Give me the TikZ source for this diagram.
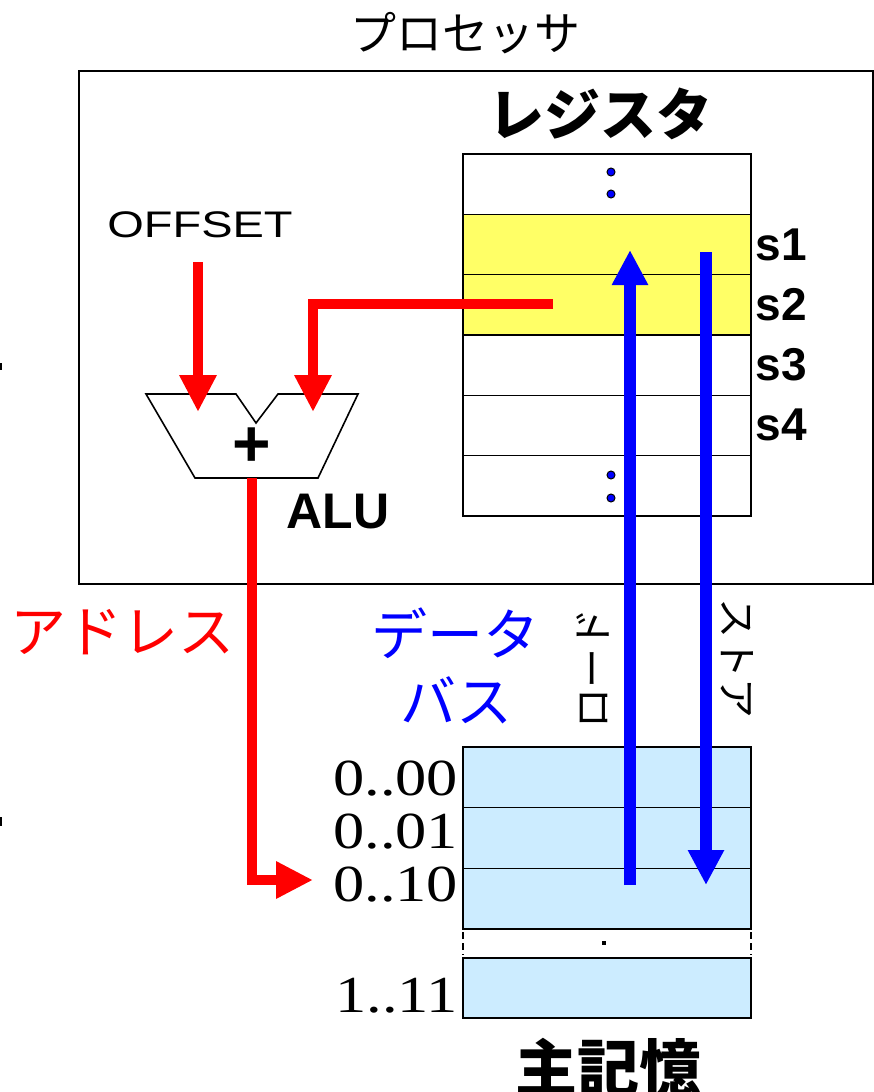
\documentclass[tikz,border=0pt]{standalone}
\usepackage{fontspec}
\setmainfont{Liberation Serif}
\setsansfont{Liberation Sans}
\newfontfamily\jp{Noto Sans CJK JP}
\usetikzlibrary{arrows.meta}
\definecolor{regyellow}{HTML}{FFFF66}
\definecolor{memblue}{HTML}{CCECFF}
\newcommand{\fs}[1]{\fontsize{#1}{#1}\selectfont}
\begin{document}
\begin{tikzpicture}[x=1pt,y=-1pt,
  box/.style={draw=black,line width=1.6pt},
  cell/.style={draw=black,line width=1.6pt,anchor=north west,minimum width=288pt,inner sep=0pt,outer sep=0pt},
  txt/.style={inner sep=0pt,outer sep=0pt},
  redarrow/.style={draw=red,line width=10pt,-{Triangle[width=35pt,length=37pt]}},
  bluearrow/.style={draw=blue,line width=12pt,-{Triangle[width=34pt,length=35pt]}},
  dotmark/.style={circle,fill=blue,draw=black,line width=1pt,inner sep=0pt,minimum size=8pt},
  addr/.style={txt,anchor=base east,font=\rmfamily\fs{52}},
  slabel/.style={txt,font=\sffamily\bfseries\fs{46}},
]
\useasboundingbox (0,0) rectangle (874,1092);

% tiny marks at left edge
\draw[line width=1.5pt] (0.75,363) -- (0.75,370);
\draw[line width=1.5pt] (0.75,817) -- (0.75,826);

% title and processor box
\node[txt,font=\jp\fs{46}] (title) at (465,33) {プロセッサ};
\node[box,anchor=north west,minimum width=794pt,minimum height=513pt,inner sep=0pt] (proc) at (78,70) {};

% registers
\node[txt,font=\jp\bfseries\fs{56}] (regtitle) at (600,114) {レジスタ};
\node[cell,minimum height=60.33pt] (r0) at (463,154) {};
\node[cell,minimum height=60.33pt,fill=regyellow] (r1) at (463,214.33) {};
\node[cell,minimum height=60.33pt,fill=regyellow] (r2) at (463,274.67) {};
\node[cell,minimum height=60.33pt] (r3) at (463,335) {};
\node[cell,minimum height=60.33pt] (r4) at (463,395.33) {};
\node[cell,minimum height=60.33pt] (r5) at (463,455.67) {};
\node[dotmark] (d1) at (611,172) {};
\node[dotmark] (d2) at (611,194) {};
\node[dotmark] (d3) at (611,475) {};
\node[dotmark] (d4) at (611,498) {};
\node[slabel] (s1) at (781,245) {s1};
\node[slabel] (s2) at (781,305) {s2};
\node[slabel] (s3) at (781,365) {s3};
\node[slabel] (s4) at (781,425) {s4};

% OFFSET and ALU
\node[txt,font=\sffamily\fs{37}] (offset) at (200,225) {\scalebox{1.27}[1]{OFFSET}};
\draw[line width=1.6pt] (146,394) -- (236,394) -- (256,423) -- (278,394) -- (358,394) -- (318,478) -- (195,478) -- cycle;
\node[txt,font=\sffamily\bfseries\fs{66}] (plus) at (252,447) {+};
\node[txt,font=\sffamily\bfseries\fs{50}] (alu) at (338,512) {ALU};
\coordinate (offsrc) at (198,262);
\coordinate (aluinA) at (198,412);
\coordinate (regsrc) at (553,304);
\coordinate (aluinB) at (313,412);
\coordinate (aluout) at (252,478);
\coordinate (memaddr) at (313,880);

% memory
\node[cell,minimum height=60.67pt,fill=memblue] (m0) at (463,747) {};
\node[cell,minimum height=60.67pt,fill=memblue] (m1) at (463,807.67) {};
\node[cell,minimum height=60.67pt,fill=memblue] (m2) at (463,868.33) {};
\node[cell,minimum height=60pt,fill=memblue] (m3) at (463,958) {};
\draw[line width=1.6pt,dash pattern=on 7pt off 4pt] (463,932) -- (463,955);
\draw[line width=1.6pt,dash pattern=on 7pt off 4pt] (751,932) -- (751,955);
\fill (602,941) rectangle (606,945);
\node[addr] (a0) at (458,795) {\scalebox{1.2}[1]{0..00}};
\node[addr] (a1) at (458,848) {\scalebox{1.2}[1]{0..01}};
\node[addr] (a2) at (458,901) {\scalebox{1.2}[1]{0..10}};
\node[addr] (a3) at (458,1012) {\scalebox{1.2}[1]{1..11}};
\node[txt,font=\jp\bfseries\fs{62}] (memtitle) at (608,1068) {主記憶};

% bus labels
\node[txt,font=\jp\fs{56},text=red] (addrlbl) at (122,632) {アドレス};
\node[txt,font=\jp\fs{56},text=blue] (data1) at (455,633) {データ};
\node[txt,font=\jp\fs{56},text=blue] (data2) at (456,700) {バス};
\node[txt,font=\jp\fs{40},rotate=90] (load) at (593,668) {ロード};
\node[txt,font=\jp\fs{40},rotate=-90] (store) at (737,658) {ストア};

% arrows
\coordinate (loadsrc) at (630,885);
\coordinate (loaddst) at (630,250);
\coordinate (storesrc) at (706,252);
\coordinate (storedst) at (706,885);
\draw[redarrow] (offsrc) -- (aluinA);
\draw[redarrow] (regsrc) -| (aluinB);
\draw[redarrow] (aluout) |- (memaddr);
\draw[bluearrow] (loadsrc) -- (loaddst);
\draw[bluearrow] (storesrc) -- (storedst);
\end{tikzpicture}
\end{document}
